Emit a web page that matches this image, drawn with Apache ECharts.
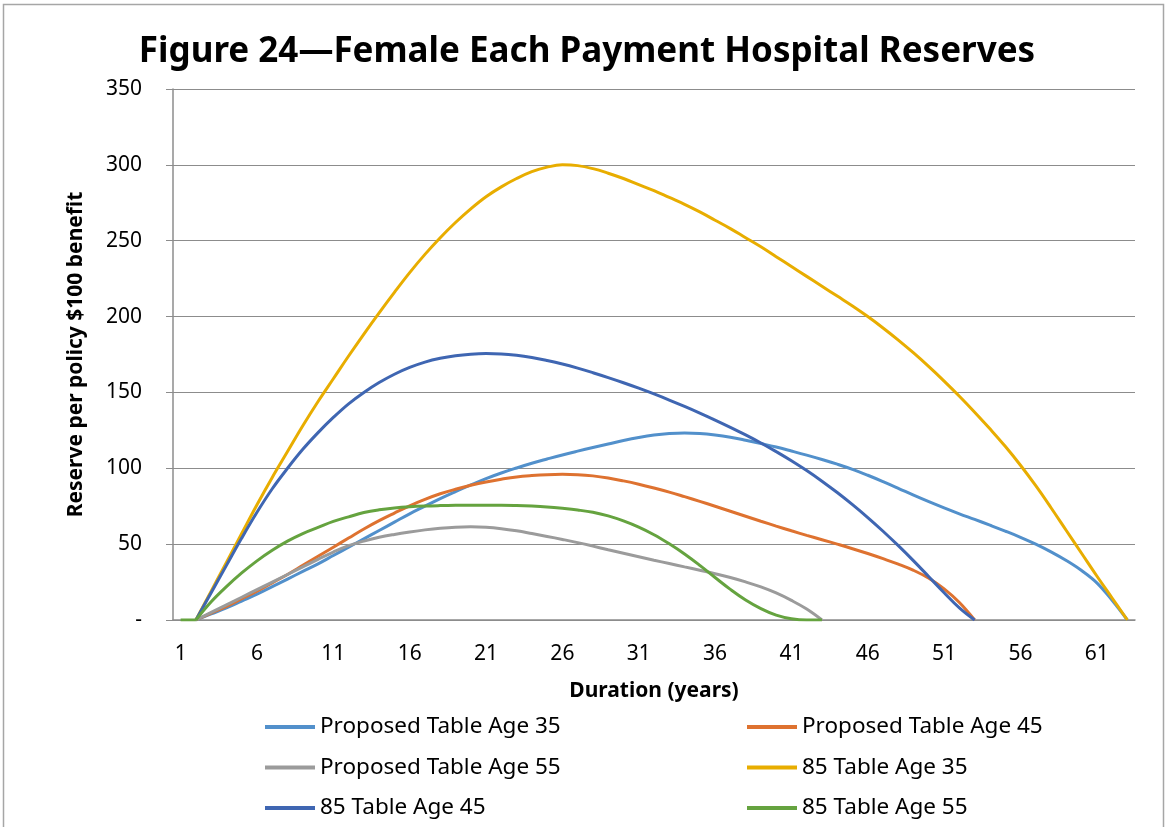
<!DOCTYPE html>
<html>
<head>
<meta charset="utf-8">
<script src="https://cdn.jsdelivr.net/npm/echarts@6/dist/echarts.min.js"></script>
<style>
  html, body { margin: 0; padding: 0; background: #fff; }
  #chart { width: 1167px; height: 827px; }
</style>
</head>
<body>
<div id="chart"></div>
<script>
// duration (years)
var durations = ['1','2','3','4','5','6','7','8','9','10','11','12','13','14','15','16','17','18','19','20',
  '21','22','23','24','25','26','27','28','29','30','31','32','33','34','35','36','37','38','39','40',
  '41','42','43','44','45','46','47','48','49','50','51','52','53','54','55','56','57','58','59','60',
  '61','62','63'];

var proposed35 = [0, 0, 4, 8, 12.5, 17, 22, 27, 32, 37, 42.5, 48, 53.5, 59, 64.5, 70, 75, 80, 84.6, 89,
  93.2, 96.9, 100.2, 103.3, 106.1, 108.8, 111.3, 113.7, 116, 118.3, 120.3, 121.9, 122.9, 123.3, 123, 122, 120.5, 118.5, 116.3, 114,
  111.4, 108.7, 105.8, 102.7, 99.3, 95.4, 91.2, 86.8, 82.3, 78, 73.9, 70, 66.3, 62.5, 58.6, 54.5, 50, 44.9, 39.2, 32.6,
  24.5, 13, 0];

var proposed45 = [0, 0, 4.5, 9, 14, 19, 24.5, 30, 36, 42, 48, 54, 60, 65.5, 70.5, 75.3, 79.5, 83.2, 86.2, 88.8,
  91, 92.8, 94.3, 95.2, 95.8, 96, 95.8, 95, 93.6, 91.7, 89.5, 87, 84.3, 81.3, 78.2, 75, 71.7, 68.4, 65.1, 61.9,
  58.8, 55.8, 52.9, 50, 47, 43.8, 40.4, 36.8, 32.7, 27.5, 20.5, 11.5, 0, null, null, null, null, null, null, null,
  null, null, null];

var proposed55 = [0, 0, 5, 10, 15, 20, 25, 30, 35, 40, 44.8, 49, 52, 54.5, 56.4, 58, 59.4, 60.5, 61.2, 61.4,
  61.1, 60.2, 58.8, 57, 55.1, 53.1, 51, 48.7, 46.3, 44, 41.7, 39.4, 37.2, 35, 32.8, 30.5, 28, 25.1, 21.8, 17.8,
  12.9, 7.2, 0, null, null, null, null, null, null, null, null, null, null, null, null, null, null, null, null, null,
  null, null, null];

var table85_35 = [0, 0, 19, 38, 57, 76, 94, 111, 128, 144, 159, 174, 188.5, 202.5, 216, 229, 241, 252, 262, 271,
  279, 285.5, 291, 295.5, 298.5, 300, 299.5, 297.5, 294.5, 291, 287, 283, 278.5, 274, 269, 263.5, 258, 252, 246, 239.5,
  233, 226.5, 220, 213.5, 207, 200, 192.5, 184.5, 176, 167, 157.5, 147.5, 137, 126, 114.5, 102, 88.5, 74, 59, 44,
  29, 14.5, 0];

var table85_45 = [0, 0, 18, 36, 54, 71, 86.5, 100, 112.5, 123.5, 133.5, 142.5, 150, 156.5, 162, 166.5, 170, 172.5, 174.2, 175.2,
  175.6, 175.4, 174.5, 173, 171, 168.7, 166, 163, 159.8, 156.4, 152.8, 149, 145, 140.8, 136.4, 131.8, 127, 122, 116.7, 111,
  105, 98.5, 91.5, 84, 76, 67.5, 58.5, 49, 39, 28.5, 18, 8, 0, null, null, null, null, null, null, null,
  null, null, null];

var table85_55 = [0, 0, 12, 22, 31, 39, 46, 52, 57, 61, 65, 68, 70.8, 72.6, 73.8, 74.6, 75.1, 75.4, 75.6, 75.7,
  75.7, 75.7, 75.5, 75.1, 74.5, 73.6, 72.5, 71, 68.6, 65.3, 61.2, 56.2, 50.2, 43.5, 36, 28, 20.2, 13.2, 7.5, 3.2,
  0.8, 0, 0, null, null, null, null, null, null, null, null, null, null, null, null, null, null, null, null, null,
  null, null, null];

var seriesNames = ['Proposed Table Age 35', 'Proposed Table Age 45', 'Proposed Table Age 55',
  '85 Table Age 35', '85 Table Age 45', '85 Table Age 55'];
var seriesData = [proposed35, proposed45, proposed55, table85_35, table85_45, table85_55];
var colors = ['#5290CB', '#DE7230', '#9B9B9B', '#E8AD00', '#3F66B2', '#65A33F'];

var font = '"Noto Sans", "Open Sans", sans-serif';
var gridColor = '#8C8C8C';

var chart = echarts.init(document.getElementById('chart'));

// the flat first year is drawn on its own so the curves keep a sharp corner at year 2
function fromYear2(arr) {
  return arr.map(function (v, k) { return k < 1 ? null : v; });
}
function firstYear(arr) {
  return arr.map(function (v, k) { return k < 2 ? v : null; });
}

var series = [];
for (var i = 0; i < seriesNames.length; i++) {
  series.push({
    name: seriesNames[i],
    type: 'line',
    data: fromYear2(seriesData[i]),
    smooth: 0.4,
    symbol: 'none',
    lineStyle: { width: 3, color: colors[i] },
    itemStyle: { color: colors[i] }
  });
}
series.push({
  name: 'flat',
  type: 'line',
  data: firstYear(table85_55),
  symbol: 'none',
  lineStyle: { width: 3, color: colors[5] },
  itemStyle: { color: colors[5] }
});

var legendBase = {
  orient: 'vertical',
  top: 715,
  height: 130,
  padding: 0,
  itemWidth: 50,
  itemHeight: 4,
  itemGap: 16.5,
  icon: 'rect',
  textStyle: { fontFamily: font, fontSize: 22.5, color: '#000', lineHeight: 24 }
};

chart.setOption({
  animation: false,
  color: colors,
  title: {
    text: 'Figure 24\u2014Female Each Payment Hospital Reserves',
    left: 582,
    textAlign: 'center',
    top: 30,
    textStyle: { fontFamily: font, fontSize: 35, fontWeight: 'bold', color: '#000' }
  },
  graphic: [{
    type: 'rect',
    shape: { x: 3.5, y: 4.5, width: 1160, height: 900 },
    style: { fill: 'none', stroke: '#A6A6A6', lineWidth: 1.5 },
    silent: true
  }],
  legend: [
    Object.assign({}, legendBase, { left: 265, data: [seriesNames[0], seriesNames[2], seriesNames[4]] }),
    Object.assign({}, legendBase, { left: 747, data: [seriesNames[1], seriesNames[3], seriesNames[5]] })
  ],
  grid: { left: 173, right: 32, top: 89, bottom: 207 },
  xAxis: {
    type: 'category',
    data: durations,
    boundaryGap: true,
    name: 'Duration (years)',
    nameLocation: 'middle',
    nameGap: 61,
    nameTextStyle: { fontFamily: font, fontSize: 21, fontWeight: 'bold', color: '#000' },
    axisLine: { lineStyle: { color: gridColor, width: 1.5 } },
    axisTick: { interval: 0, length: 7, lineStyle: { color: gridColor } },
    axisLabel: { interval: 4, margin: 24, fontFamily: font, fontSize: 21, color: '#000' }
  },
  yAxis: {
    type: 'value',
    min: 0,
    max: 350,
    interval: 50,
    name: 'Reserve per policy $100 benefit',
    nameLocation: 'middle',
    nameGap: 86,
    nameTextStyle: { fontFamily: font, fontSize: 21, fontWeight: 'bold', color: '#000' },
    axisLine: { show: true, lineStyle: { color: gridColor, width: 1.5 } },
    axisTick: { show: true, length: 7, lineStyle: { color: gridColor } },
    splitLine: { lineStyle: { color: gridColor, width: 1.2 } },
    axisLabel: {
      margin: 31,
      fontFamily: font,
      fontSize: 21,
      color: '#000',
      formatter: function (v) { return v === 0 ? '-' : String(v); }
    }
  },
  series: series
});
</script>
</body>
</html>
